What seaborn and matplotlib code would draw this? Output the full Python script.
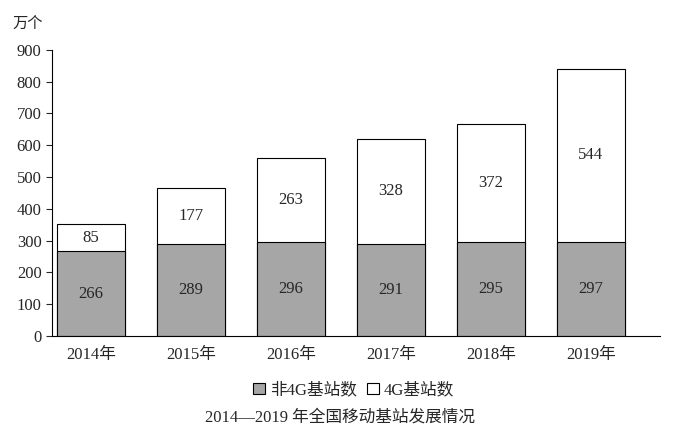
import matplotlib
matplotlib.use("Agg")
import matplotlib.pyplot as plt
import seaborn as sns
import pandas as pd

years = ['2014年', '2015年', '2016年', '2017年', '2018年', '2019年']
non4g = [266, 289, 296, 291, 295, 297]
lte = [85, 177, 263, 328, 372, 544]

sns.set_style("white")
plt.rcParams['font.family'] = ['Liberation Serif', 'Noto Sans CJK SC']

df = pd.DataFrame({'year': years, 'non4g': non4g, 'lte': lte})
df['total'] = df['non4g'] + df['lte']

fig = plt.figure(figsize=(6.8, 4.41), dpi=100)
ax = fig.add_axes([0.0765, 0.238, 0.894, 0.649])

sns.barplot(x='year', y='total', data=df, color='white', edgecolor='black',
            linewidth=0.8, width=0.68, ax=ax, label='4G基站数')
sns.barplot(x='year', y='non4g', data=df, color='#a6a6a6', edgecolor='black',
            linewidth=0.8, width=0.68, ax=ax, label='非4G基站数', saturation=1)

for i, r in df.iterrows():
    ax.text(i, r['non4g'] / 2, str(r['non4g']), ha='center', va='center', fontsize=12)
    ax.text(i, r['non4g'] + r['lte'] / 2, str(r['lte']), ha='center', va='center', fontsize=12)

ax.set_ylim(0, 900)
ax.set_yticks(range(0, 901, 100))
ax.set_xlim(-0.39, 5.69)
ax.set_xlabel('')
ax.set_ylabel('')
if ax.get_legend():
    ax.get_legend().remove()
for s in ['top', 'right']:
    ax.spines[s].set_visible(False)
for s in ['left', 'bottom']:
    ax.spines[s].set_color('black')
    ax.spines[s].set_linewidth(0.8)
ax.tick_params(axis='y', direction='out', length=4, labelsize=12, left=True)
ax.tick_params(axis='x', length=0, labelsize=12, pad=8)
fig.text(28 / 680, 1 - 24 / 441, '万个', fontsize=11, ha='center', va='center')

h, l = ax.get_legend_handles_labels()
order = [l.index('非4G基站数'), l.index('4G基站数')]
fig.legend([h[i] for i in order], [l[i] for i in order], loc='center',
           bbox_to_anchor=(0.52, 0.115), ncol=2, frameon=False, fontsize=12,
           handlelength=0.7, handleheight=0.7, columnspacing=0.6, handletextpad=0.3)
fig.text(0.5, 0.043, '2014—2019 年全国移动基站发展情况', ha='center', fontsize=12)

fig.savefig('out.png', dpi=100)
